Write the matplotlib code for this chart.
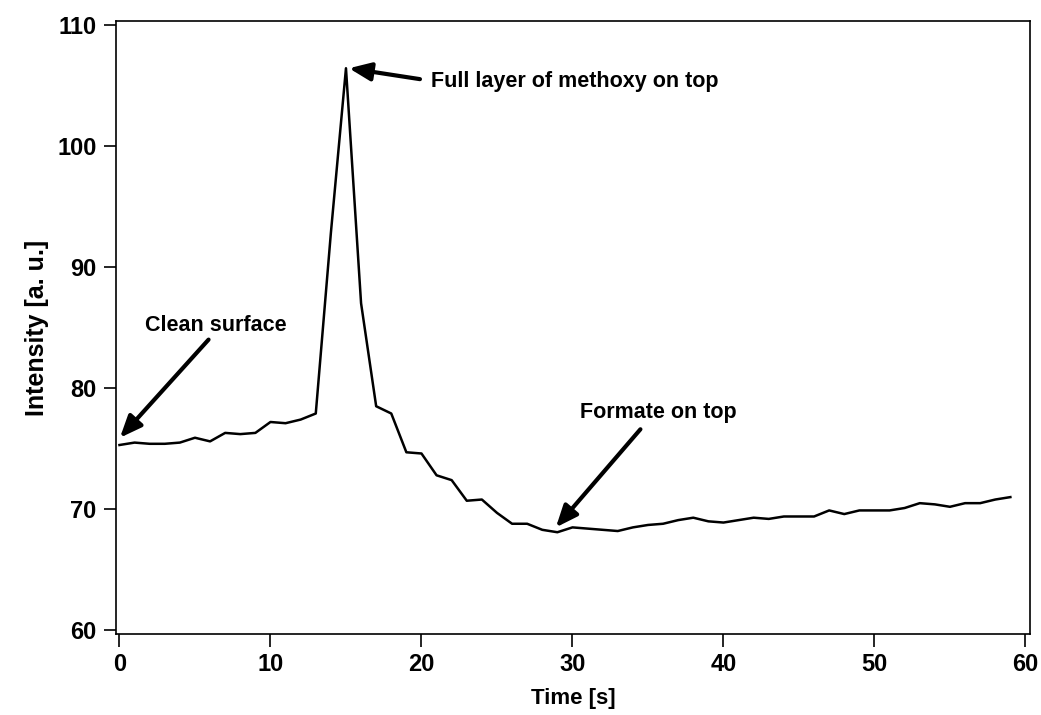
import matplotlib
matplotlib.use("Agg")
import matplotlib.pyplot as plt

time_s = list(range(60))
intensity = [75.3, 75.5, 75.4, 75.4, 75.5, 75.9, 75.6, 76.3, 76.2, 76.3,
             77.2, 77.1, 77.4, 77.9, 92.8, 106.4, 87.0, 78.5, 77.9, 74.7,
             74.6, 72.8, 72.4, 70.7, 70.8, 69.7, 68.8, 68.8, 68.3, 68.1,
             68.5, 68.4, 68.3, 68.2, 68.5, 68.7, 68.8, 69.1, 69.3, 69.0,
             68.9, 69.1, 69.3, 69.2, 69.4, 69.4, 69.4, 69.9, 69.6, 69.9,
             69.9, 69.9, 70.1, 70.5, 70.4, 70.2, 70.5, 70.5, 70.8, 71.0]
x_ticks = [0, 10, 20, 30, 40, 50, 60]
y_ticks = [60, 70, 80, 90, 100, 110]
# (text, arrow tip, arrow tail, text position, alignment)
annotations = [
    ("Clean surface", (0.03, 75.9), (5.9, 84.0), (6.4, 85.2), "center"),
    ("Full layer of methoxy on top", (15.2, 106.4), (19.9, 105.5), (20.6, 105.3), "left"),
    ("Formate on top", (28.9, 68.5), (34.5, 76.6), (35.7, 78.0), "center"),
]

plt.rcParams['font.family'] = ['Liberation Sans', 'DejaVu Sans']
plt.rcParams['font.weight'] = 'bold'

fig = plt.figure(figsize=(10.41, 7.15), dpi=100)
ax = fig.add_axes([116/1041, 81/715, 914/1041, 613/715])
ax.plot(time_s, intensity, color='black', lw=1.8)
ax.set_xlim(-0.23, 60.3)
ax.set_ylim(59.7, 110.3)
ax.set_xticks(x_ticks)
ax.set_yticks(y_ticks)
ax.tick_params(direction='out', length=9, width=1.2, labelsize=17, pad=5)
for lbl in ax.get_xticklabels() + ax.get_yticklabels():
    lbl.set_fontweight('bold')
for s in ax.spines.values():
    s.set_linewidth(1.2)
ax.set_xlabel("Time [s]", fontsize=16, fontweight='bold', labelpad=8)
ax.set_ylabel("Intensity [a. u.]", fontsize=18, fontweight='bold', labelpad=6)

for text, tip, tail, pos, ha in annotations:
    ax.annotate("", xy=tip, xytext=tail,
                arrowprops=dict(arrowstyle='-|>,head_length=0.6,head_width=0.25',
                                color='black', lw=3,
                                mutation_scale=22, shrinkA=0, shrinkB=0))
    ax.text(pos[0], pos[1], text, ha=ha, va='center',
            fontsize=15.5, fontweight='bold')

fig.savefig("out.png", dpi=100)
